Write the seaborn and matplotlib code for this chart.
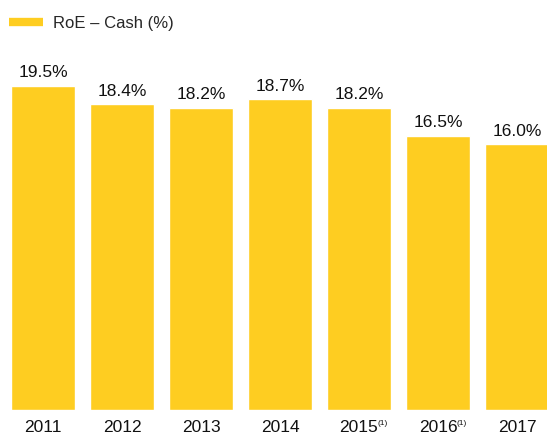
import seaborn as sns
import matplotlib.pyplot as plt
from matplotlib.lines import Line2D

years = ["2011", "2012", "2013", "2014", "2015", "2016", "2017"]
roe_cash = [19.5, 18.4, 18.2, 18.7, 18.2, 16.5, 16.0]
footnotes = ["", "", "", "", "(1)", "(1)", ""]
series_name = "RoE \u2013 Cash (%)"
yellow = "#FECD21"

sns.set_style("white")
plt.rcParams["font.family"] = ["Liberation Sans", "DejaVu Sans"]

fig = plt.figure(figsize=(5.47, 4.34), dpi=100)
ax = fig.add_axes([0, 24 / 434, 1, 350 / 434])

sns.barplot(x=years, y=roe_cash, color=yellow, saturation=1, width=0.81, ax=ax)

for i, v in enumerate(roe_cash):
    ax.annotate(f"{v:.1f}%", (i, v), xytext=(0, 4), textcoords="offset points",
                ha="center", va="bottom", fontsize=12.5, color="#111111")

# footnote markers next to the year labels
for i, note in enumerate(footnotes):
    if note:
        ax.annotate(note, (i, 0), xytext=(13.5, -7), textcoords="offset points",
                    ha="left", va="top", fontsize=6, color="#111111",
                    annotation_clip=False)

ax.set_xlim(-0.544, 6.38)
ax.set_ylim(0, 350 / (324 / 19.5))
ax.set_xticks(range(len(years)))
ax.set_xticklabels(years, fontsize=12.5, color="#111111")
ax.tick_params(axis="x", length=0, pad=7)
ax.set_yticks([])
ax.set_xlabel("")
ax.set_ylabel("")
sns.despine(ax=ax, left=True, bottom=True)

handle = Line2D([], [], color=yellow, linewidth=6, solid_capstyle="butt")
fig.legend([handle], [series_name], loc="upper left", bbox_to_anchor=(-0.004, 0.99),
           frameon=False, fontsize=12, handlelength=2.0, handletextpad=0.6,
           borderaxespad=0.3)

fig.savefig("out.png", dpi=100)
